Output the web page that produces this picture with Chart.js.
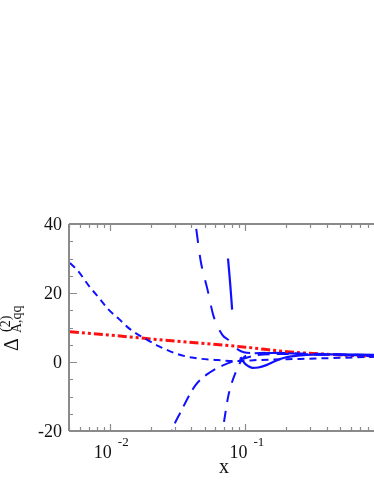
<!DOCTYPE html>
<html>
<head>
<meta charset="utf-8">
<script src="https://cdn.jsdelivr.net/npm/chart.js@4/dist/chart.umd.min.js"></script>
<style>
  html, body { margin: 0; padding: 0; background: #fff; overflow: hidden; }
  canvas { display: block; }
</style>
</head>
<body>
<canvas id="chart" width="374" height="484"></canvas>
<script>
// axis ranges and tick values
const xRange = [0.005, 0.888];
const yRange = [-20, 40];
const yTickLabels = [-20, 0, 20, 40];
const xTickLabels = [{ base: "10", exp: "-2", at: 0.01 }, { base: "10", exp: "-1", at: 0.1 }];

// red dash-dot curve
const redX = [0.00508, 0.01, 0.02, 0.0428, 0.1, 0.214, 0.42, 0.888];
const redY = [8.8, 7.8, 6.7, 5.6, 4.3, 2.9, 2.2, 1.6];

// short dashes, falling from the left
const aX = [0.00508, 0.00582, 0.00713, 0.00844, 0.00967, 0.01165, 0.014, 0.0178, 0.0229, 0.0316, 0.0415, 0.0603, 0.0843, 0.129, 0.2535, 0.5, 0.888];
const aY = [28.7, 26.4, 21.7, 18.3, 15.4, 12.5, 9.6, 7.0, 4.6, 2.3, 1.2, 0.6, 0.3, 0.6, 0.9, 1.2, 1.5];

// dashes rising from the bottom (left one)
const bX = [0.0272, 0.0286, 0.0333, 0.0429, 0.0553, 0.0689, 0.0802, 0.0951, 0.1186, 0.1807, 0.3557, 0.888];
const bY = [-23, -20, -14.5, -6.7, -2.9, -0.9, 0.1, 0.9, 1.9, 2.3, 2.2, 1.8];

// dashes rising from the bottom (right one)
const cX = [0.0644, 0.0676, 0.075, 0.0844, 0.0951, 0.109, 0.15, 0.25, 0.888];
const cY = [-23, -20, -9.6, -3.2, 0.9, 2.3, 2.7, 2.5, 2.0];

// long dashes coming down from the top
const dX = [0.0407, 0.0429, 0.0467, 0.0526, 0.0582, 0.0678, 0.075, 0.0889, 0.1089, 0.1403, 0.1807, 0.2535, 0.5, 0.888];
const dY = [46, 40, 29.5, 20.9, 13.3, 7.8, 6.4, 3.5, 2.6, 2.6, 2.6, 2.3, 2.0, 1.7];

// solid pieces
const e1X = [0.0744, 0.0773, 0.0798];
const e1Y = [30, 22.5, 15.2];
const e2X = [0.0919, 0.0983, 0.105, 0.1126, 0.1247, 0.1427, 0.1662, 0.197, 0.2535, 0.4217, 0.888];
const e2Y = [1.4, -0.3, -1.2, -1.7, -1.6, -0.9, 0.3, 1.3, 1.9, 2.2, 2.1];

const pts = (xs, ys) => xs.map((x, i) => ({ x, y: ys[i] }));
const BLUE = "#1010ff";
const RED = "#ff1010";
const FONT = "'Liberation Serif', 'DejaVu Serif', serif";

const line = (data, color, width, dash) => ({
  data, borderColor: color, borderWidth: width, borderDash: dash,
  pointRadius: 0, fill: false, cubicInterpolationMode: "monotone", clip: 0,
});

// axes, inward ticks and labels drawn by hand
const frame = {
  id: "frame",
  afterDraw(chart) {
    const { ctx, chartArea: a, scales: { x, y } } = chart;
    ctx.save();
    ctx.strokeStyle = "#8a8a8a";
    ctx.lineWidth = 2;
    ctx.beginPath();
    ctx.moveTo(a.left, a.top); ctx.lineTo(a.right, a.top);
    ctx.moveTo(a.left, a.top); ctx.lineTo(a.left, a.bottom);
    ctx.moveTo(a.left, a.bottom); ctx.lineTo(a.right, a.bottom);
    ctx.stroke();

    ctx.lineWidth = 1.2;
    ctx.beginPath();
    for (let v = yRange[0]; v <= yRange[1]; v += 5) {
      const py = Math.round(y.getPixelForValue(v)) + 0.5;
      const len = v % 20 === 0 ? 8 : 4;
      ctx.moveTo(a.left, py); ctx.lineTo(a.left + len, py);
    }
    for (let d = -3; d <= 0; d++) {
      for (let m = 1; m <= 9; m++) {
        const v = m * Math.pow(10, d);
        if (v < xRange[0] || v > xRange[1]) continue;
        const px = Math.round(x.getPixelForValue(v)) + 0.5;
        const len = m === 1 ? 7 : 4;
        ctx.moveTo(px, a.bottom); ctx.lineTo(px, a.bottom - len);
        ctx.moveTo(px, a.top); ctx.lineTo(px, a.top + len);
      }
    }
    ctx.stroke();

    ctx.fillStyle = "#111";
    ctx.font = "18px " + FONT;
    ctx.textAlign = "right";
    ctx.textBaseline = "middle";
    yTickLabels.forEach((v) => ctx.fillText(String(v), 62, y.getPixelForValue(v) + 1));

    ctx.textAlign = "left";
    ctx.textBaseline = "alphabetic";
    xTickLabels.forEach((t) => {
      const px = x.getPixelForValue(t.at);
      ctx.font = "18px " + FONT;
      ctx.fillText(t.base, px - 16, 458);
      ctx.font = "13px " + FONT;
      ctx.fillText(t.exp, px + 8, 446);
    });

    ctx.font = "20px " + FONT;
    ctx.textAlign = "center";
    ctx.fillText("x", 224, 473);

    // vertical title, reading upward
    ctx.setTransform(0, -1, 1, 0, 18, 351);
    ctx.textAlign = "left";
    ctx.font = "20px " + FONT;
    ctx.fillText("\u0394", 0, 0);
    ctx.font = "14px " + FONT;
    ctx.fillText("(2)", 19, -8);
    ctx.fillText("A,qq", 18, 3);
    ctx.restore();
  },
};

new Chart(document.getElementById("chart"), {
  type: "line",
  data: {
    datasets: [
      line(pts(aX, aY), BLUE, 2, [7, 5]),
      line(pts(bX, bY), BLUE, 2, [12, 7]),
      line(pts(cX, cY), BLUE, 2, [11, 9]),
      line(pts(dX, dY), BLUE, 2, [14, 12]),
      line(pts(e1X, e1Y), BLUE, 2.2, []),
      line(pts(e2X, e2Y), BLUE, 2.2, []),
      line(pts(redX, redY), RED, 3, [9, 3, 3, 3, 3, 3]),
    ],
  },
  options: {
    responsive: false,
    animation: false,
    layout: { padding: { left: 69, top: 224, right: 0, bottom: 53 } },
    plugins: { legend: { display: false }, tooltip: { enabled: false } },
    scales: {
      x: { type: "logarithmic", min: xRange[0], max: xRange[1], display: false },
      y: { type: "linear", min: yRange[0], max: yRange[1], display: false },
    },
  },
  plugins: [frame],
});
</script>
</body>
</html>
